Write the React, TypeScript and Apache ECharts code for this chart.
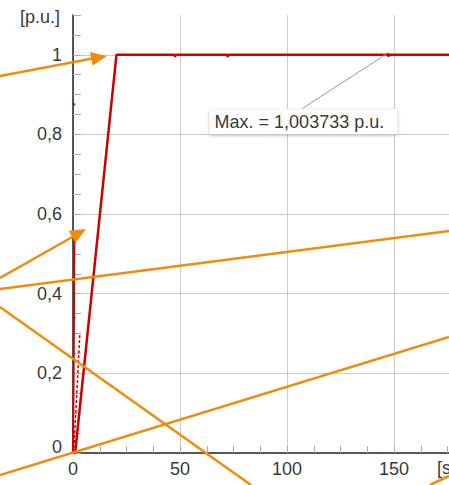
import React, { useEffect, useRef } from "react";
import * as echarts from "echarts";

// ---- data ----
const rampTime = [0, 1, 20.3, 47.4, 47.7, 48.0, 72.0, 72.3, 72.6, 146.6, 147.0, 147.4, 147.8, 180];
const rampValue = [0, 0, 1.0, 1.0, 0.995, 1.0, 1.0, 0.995, 1.0, 1.0, 1.003733, 0.996, 1.0, 1.0];
const fastTime = [0, 0.3, 0.5, 0.6];
const fastValue = [0, 0.2, 0.4, 0.54];
const slowTime = [0.3, 1.5, 3.2];
const slowValue = [0, 0.12, 0.3];
const dotTime = [0.4, 0.5];
const dotValue = [0.875, 0.34];
const maxTime = 147.0;
const maxValue = 1.003733;
const maxText = "Max. = 1,003733 p.u.";
const xName = "[s]";
const yName = "[p.u.]";

const RED = "#cc0000";
const ORANGE = "#f08c0c";
const TXT = "#3a3a3a";
const FONT = "'Liberation Sans', Arial, sans-serif";

function arrowHead(x0: number, y0: number, tx: number, ty: number, len = 16, half = 7) {
  const dx = tx - x0, dy = ty - y0;
  const d = Math.hypot(dx, dy);
  const ux = dx / d, uy = dy / d;
  const bx = tx - ux * len, by = ty - uy * len;
  const px = -uy, py = ux;
  return [
    [tx, ty],
    [bx + px * half, by + py * half],
    [bx - px * half, by - py * half],
  ];
}

export default function App() {
  const ref = useRef<HTMLDivElement>(null);
  useEffect(() => {
    if (!ref.current) return;
    const chart = echarts.init(ref.current, undefined, { renderer: "svg" });
    const zip = (a: number[], b: number[]) => a.map((v, i) => [v, b[i]]);
    chart.setOption({
      animation: false,
      backgroundColor: "#ffffff",
      textStyle: { fontFamily: FONT },
      grid: { left: 73, top: 15, width: 385.2, height: 438 },
      xAxis: [
        {
          type: "value",
          position: "bottom",
          min: 0,
          max: 180,
          interval: 50,
          axisLine: { show: true, lineStyle: { color: "#555", width: 2 } },
          axisTick: { show: false },
          axisLabel: { color: TXT, fontSize: 18, margin: 7, showMaxLabel: false, fontFamily: FONT },
          splitLine: { show: true, lineStyle: { color: "#cccccc", width: 1 }, showMaxLine: false },
        },
        {
          type: "value",
          position: "bottom",
          min: 0,
          max: 180,
          interval: 12.5,
          axisLine: { show: false },
          axisTick: { show: true, inside: true, length: 7, lineStyle: { color: "#aaaaaa" } },
          axisLabel: { show: false },
          splitLine: { show: false },
        },
      ],
      yAxis: [
        {
          type: "value",
          position: "left",
          min: 0,
          max: 1.1,
          interval: 0.2,
          axisLine: { show: true, lineStyle: { color: "#222", width: 1.5 } },
          axisTick: { show: false },
          axisLabel: {
            color: TXT,
            fontSize: 18,
            margin: 11,
            fontFamily: FONT,
            showMaxLabel: false,
            formatter: (v: number) => (v === 0 ? "{z|0}" : String(Math.round(v * 10) / 10).replace(".", ",")),
            rich: { z: { fontSize: 18, color: TXT, fontFamily: FONT, padding: [0, 0, 12, 0] } },
          },
          splitLine: { show: true, lineStyle: { color: "#cccccc", width: 1 }, showMaxLine: false },
        },
        {
          type: "value",
          position: "left",
          min: 0,
          max: 1.1,
          interval: 0.05,
          axisLine: { show: false },
          axisTick: { show: true, inside: true, length: 8, lineStyle: { color: "#aaaaaa" } },
          axisLabel: { show: false },
          splitLine: { show: false },
        },
      ],
      series: [
        {
          type: "line",
          data: zip(fastTime, fastValue),
          symbol: "none",
          lineStyle: { color: RED, width: 2 },
          z: 3,
        },
        {
          type: "line",
          data: zip(slowTime, slowValue),
          symbol: "none",
          lineStyle: { color: RED, width: 1.5, type: [3, 2] },
          z: 3,
        },
        {
          type: "line",
          data: zip(rampTime, rampValue),
          symbol: "none",
          lineStyle: { color: RED, width: 2.5 },
          z: 4,
        },
        {
          type: "scatter",
          data: zip(dotTime, dotValue),
          symbolSize: 3,
          itemStyle: { color: RED },
          z: 4,
        },
      ],
    });

    const p = chart.convertToPixel({ gridIndex: 0 }, [maxTime, maxValue]) as number[];
    const lx = p[0] - 85, ly = p[1] + 55;
    const orangeLines: number[][][] = [
      [[0, 76], [95, 58]],
      [[0, 278], [74, 236]],
      [[0, 289], [449, 231]],
      [[0, 307], [251, 485]],
      [[0, 475], [449, 337]],
      [[430, 485], [449, 476]],
    ];
    const heads = [arrowHead(0, 76, 107, 56), arrowHead(0, 278, 86, 229)];
    chart.setOption({
      graphic: [
        { type: "line", z: 50, shape: { x1: p[0], y1: p[1], x2: lx, y2: ly }, style: { stroke: "#999", lineWidth: 1 } },
        {
          type: "rect",
          z: 50,
          shape: { x: lx - 93, y: ly + 1, width: 188, height: 25 },
          style: { fill: "#fff", shadowBlur: 3, shadowColor: "rgba(0,0,0,0.35)", shadowOffsetY: 1 },
        },
        {
          type: "text",
          z: 51,
          x: lx - 88,
          y: ly + 14,
          style: { text: maxText, fill: TXT, font: `18px ${FONT}`, verticalAlign: "middle", align: "left" },
        },
        {
          type: "text",
          z: 51,
          x: 60,
          y: 17,
          style: { text: yName, fill: TXT, font: `18px ${FONT}`, verticalAlign: "middle", align: "right" },
        },
        {
          type: "text",
          z: 51,
          x: 437,
          y: 468,
          style: { text: xName, fill: TXT, font: `18px ${FONT}`, verticalAlign: "middle", align: "left" },
        },
        ...orangeLines.map((l) => ({
          type: "line",
          z: 100,
          shape: { x1: l[0][0], y1: l[0][1], x2: l[1][0], y2: l[1][1] },
          style: { stroke: ORANGE, lineWidth: 2.5 },
        })),
        ...heads.map((h) => ({
          type: "polygon",
          z: 100,
          shape: { points: h },
          style: { fill: ORANGE },
        })),
      ],
    });
    return () => chart.dispose();
  }, []);
  return (
    <div style={{ position: "absolute", left: 0, top: 0, width: 449, height: 485, overflow: "hidden", background: "#fff" }}>
      <div ref={ref} style={{ width: 480, height: 485 }} />
    </div>
  );
}
